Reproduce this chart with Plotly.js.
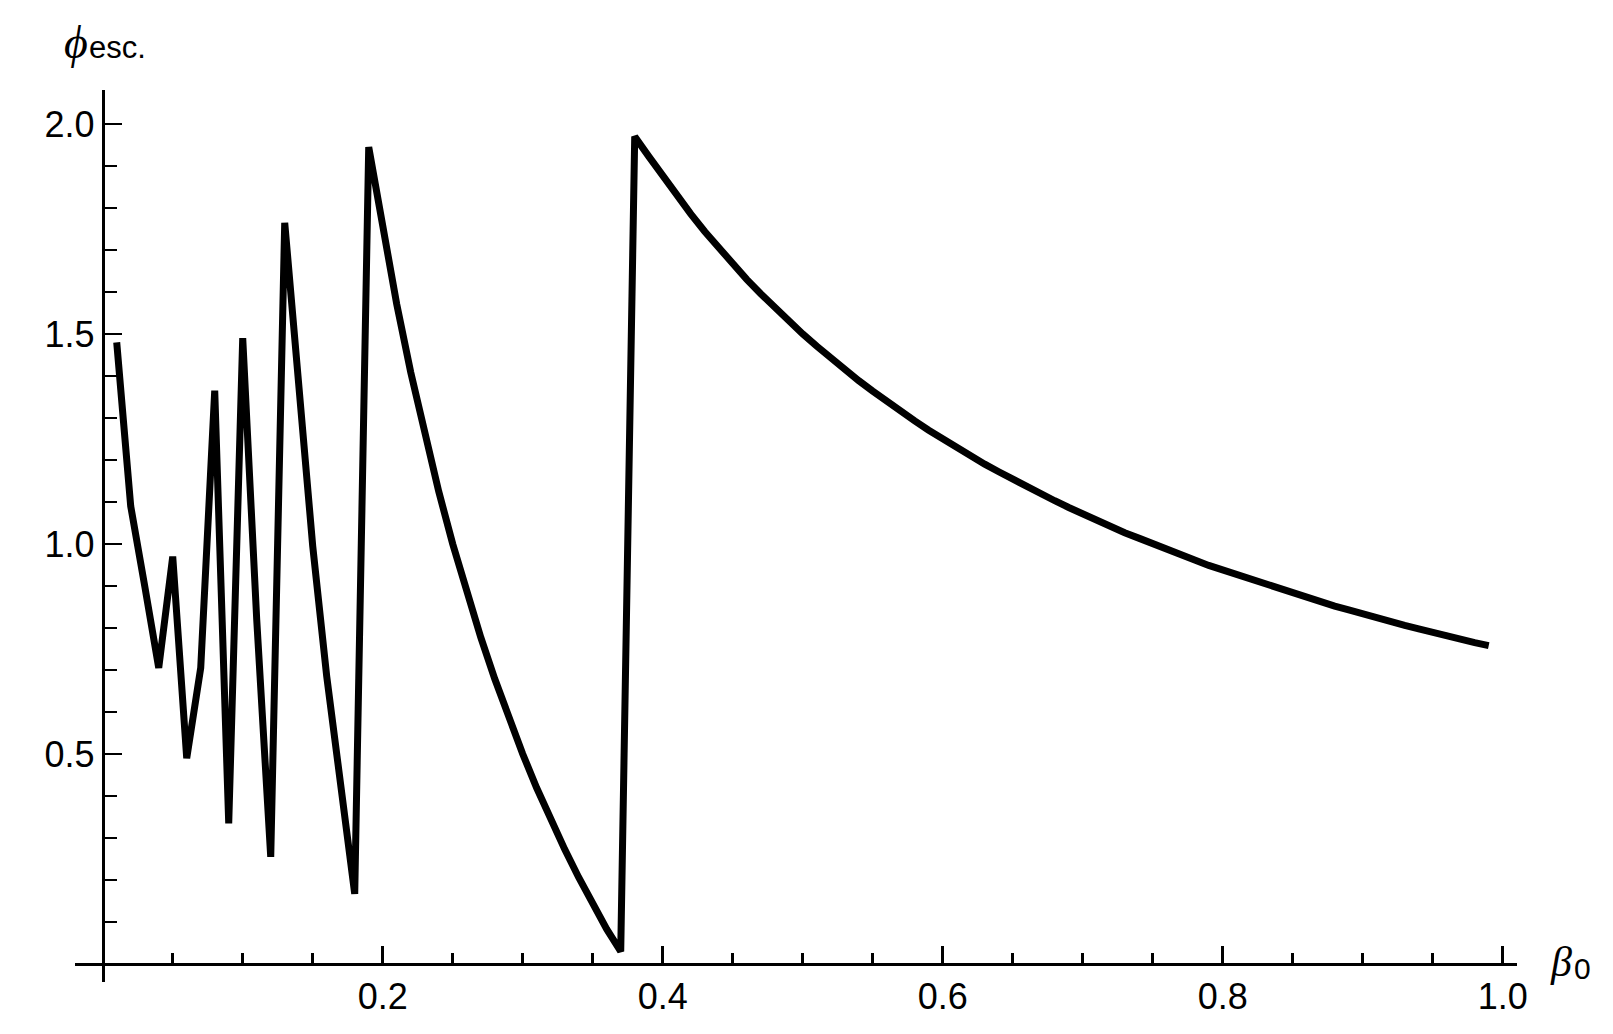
<!DOCTYPE html>
<html>
<head>
<meta charset="utf-8">
<script src="https://cdn.plot.ly/plotly-3.0.1.min.js"></script>
<style>html,body{margin:0;padding:0;background:#fff;}#chart{width:1613px;height:1034px;}</style>
</head>
<body>
<div id="chart"></div>
<script>
// beta_0 values (sampled every 0.01)
const beta0 = [0.01,0.02,0.03,0.04,0.05,0.06,0.07,0.08,0.09,0.10,
  0.11,0.12,0.13,0.14,0.15,0.16,0.17,0.18,0.19,0.20,
  0.21,0.22,0.23,0.24,0.25,0.26,0.27,0.28,0.29,0.30,
  0.31,0.32,0.33,0.34,0.35,0.36,0.37,0.38,0.39,0.40,
  0.41,0.42,0.43,0.44,0.45,0.46,0.47,0.48,0.49,0.50,
  0.51,0.52,0.53,0.54,0.55,0.56,0.57,0.58,0.59,0.60,
  0.61,0.62,0.63,0.64,0.65,0.66,0.67,0.68,0.69,0.70,
  0.71,0.72,0.73,0.74,0.75,0.76,0.77,0.78,0.79,0.80,
  0.81,0.82,0.83,0.84,0.85,0.86,0.87,0.88,0.89,0.90,
  0.91,0.92,0.93,0.94,0.95,0.96,0.97,0.98,0.99];
// phi_esc. values
const phiEsc = [1.48,1.09,0.90,0.705,0.97,0.49,0.705,1.365,0.335,1.49,
  0.82,0.255,1.765,1.355,0.995,0.685,0.41,0.167,1.945,1.75,
  1.571,1.409,1.261,1.125,1.000,0.885,0.778,0.679,0.586,0.500,
  0.419,0.344,0.273,0.206,0.143,0.083,0.030,1.970,1.923,1.875,
  1.829,1.786,1.744,1.705,1.667,1.630,1.596,1.563,1.531,1.500,
  1.471,1.442,1.415,1.389,1.364,1.339,1.316,1.293,1.271,1.250,
  1.230,1.210,1.190,1.172,1.154,1.136,1.119,1.103,1.087,1.071,
  1.056,1.042,1.027,1.014,1.000,0.987,0.974,0.962,0.949,0.938,
  0.926,0.915,0.904,0.893,0.882,0.872,0.862,0.852,0.843,0.833,
  0.824,0.815,0.806,0.798,0.789,0.781,0.773,0.765,0.758];

const xTickVals = [0.2,0.4,0.6,0.8,1.0];
const xTickText = ["0.2","0.4","0.6","0.8","1.0"];
const xMinorVals = [0.05,0.1,0.15,0.25,0.3,0.35,0.45,0.5,0.55,0.65,0.7,0.75,0.85,0.9,0.95];
const yTickVals = [0.5,1.0,1.5,2.0];
const yTickText = ["0.5","1.0","1.5","2.0"];
const yMinorVals = [0.1,0.2,0.3,0.4,0.6,0.7,0.8,0.9,1.1,1.2,1.3,1.4,1.6,1.7,1.8,1.9];

const xRange = [-0.0198, 1.0102];
const yRange = [-0.0429, 2.081];

// plot box in pixels
const L = 75, R = 1517, T = 90, B = 982;
function px(xp){ return (xp - L)/(R - L); }
function py(yp){ return (B - yp)/(B - T); }

const tickFont = {family: "Liberation Sans, Arial, sans-serif", size: 36, color: "#000"};

const trace = {
  x: beta0, y: phiEsc, type: "scatter", mode: "lines",
  line: {color: "#000", width: 7}, hoverinfo: "skip"
};

const layout = {
  width: 1613, height: 1034,
  margin: {l: L, r: 1613 - R, t: T, b: 1034 - B, pad: 0},
  paper_bgcolor: "#fff", plot_bgcolor: "#fff",
  showlegend: false,
  xaxis: {
    range: xRange, anchor: "free",
    position: (0 - yRange[0])/(yRange[1]-yRange[0]),
    showgrid: false, zeroline: false,
    showline: true, linecolor: "#000", linewidth: 3,
    tickmode: "array", tickvals: xTickVals, ticktext: xTickText,
    ticks: "inside", ticklen: 17, tickwidth: 2.7, tickcolor: "#000",
    tickfont: tickFont,
    minor: {tickmode: "array", tickvals: xMinorVals, ticks: "inside", ticklen: 10, tickwidth: 2.7, tickcolor: "#000", showgrid: false}
  },
  yaxis: {
    range: yRange, anchor: "free",
    position: (0 - xRange[0])/(xRange[1]-xRange[0]),
    showgrid: false, zeroline: false,
    showline: true, linecolor: "#000", linewidth: 3,
    tickmode: "array", tickvals: yTickVals, ticktext: yTickText,
    ticks: "inside", ticklen: 17, tickwidth: 2.7, tickcolor: "#000",
    tickfont: tickFont,
    minor: {tickmode: "array", tickvals: yMinorVals, ticks: "inside", ticklen: 12, tickwidth: 2.7, tickcolor: "#000", showgrid: false}
  },
  annotations: [
    {xref: "paper", yref: "paper", x: px(62), y: py(42), xanchor: "left", yanchor: "middle",
     text: "<i>ϕ</i>", showarrow: false,
     font: {family: "Liberation Serif, serif", size: 46, color: "#000"}},
    {xref: "paper", yref: "paper", x: px(87), y: py(48), xanchor: "left", yanchor: "middle",
     text: "esc.", showarrow: false,
     font: {family: "Liberation Sans, Arial, sans-serif", size: 31, color: "#000"}},
    {xref: "paper", yref: "paper", x: px(1548), y: py(962), xanchor: "left", yanchor: "middle",
     text: "<i>β</i>", showarrow: false,
     font: {family: "Liberation Serif, serif", size: 42, color: "#000"}},
    {xref: "paper", yref: "paper", x: px(1572), y: py(968), xanchor: "left", yanchor: "middle",
     text: "0", showarrow: false,
     font: {family: "Liberation Sans, Arial, sans-serif", size: 30, color: "#000"}}
  ]
};

Plotly.newPlot("chart", [trace], layout, {staticPlot: true, displayModeBar: false});
</script>
</body>
</html>
